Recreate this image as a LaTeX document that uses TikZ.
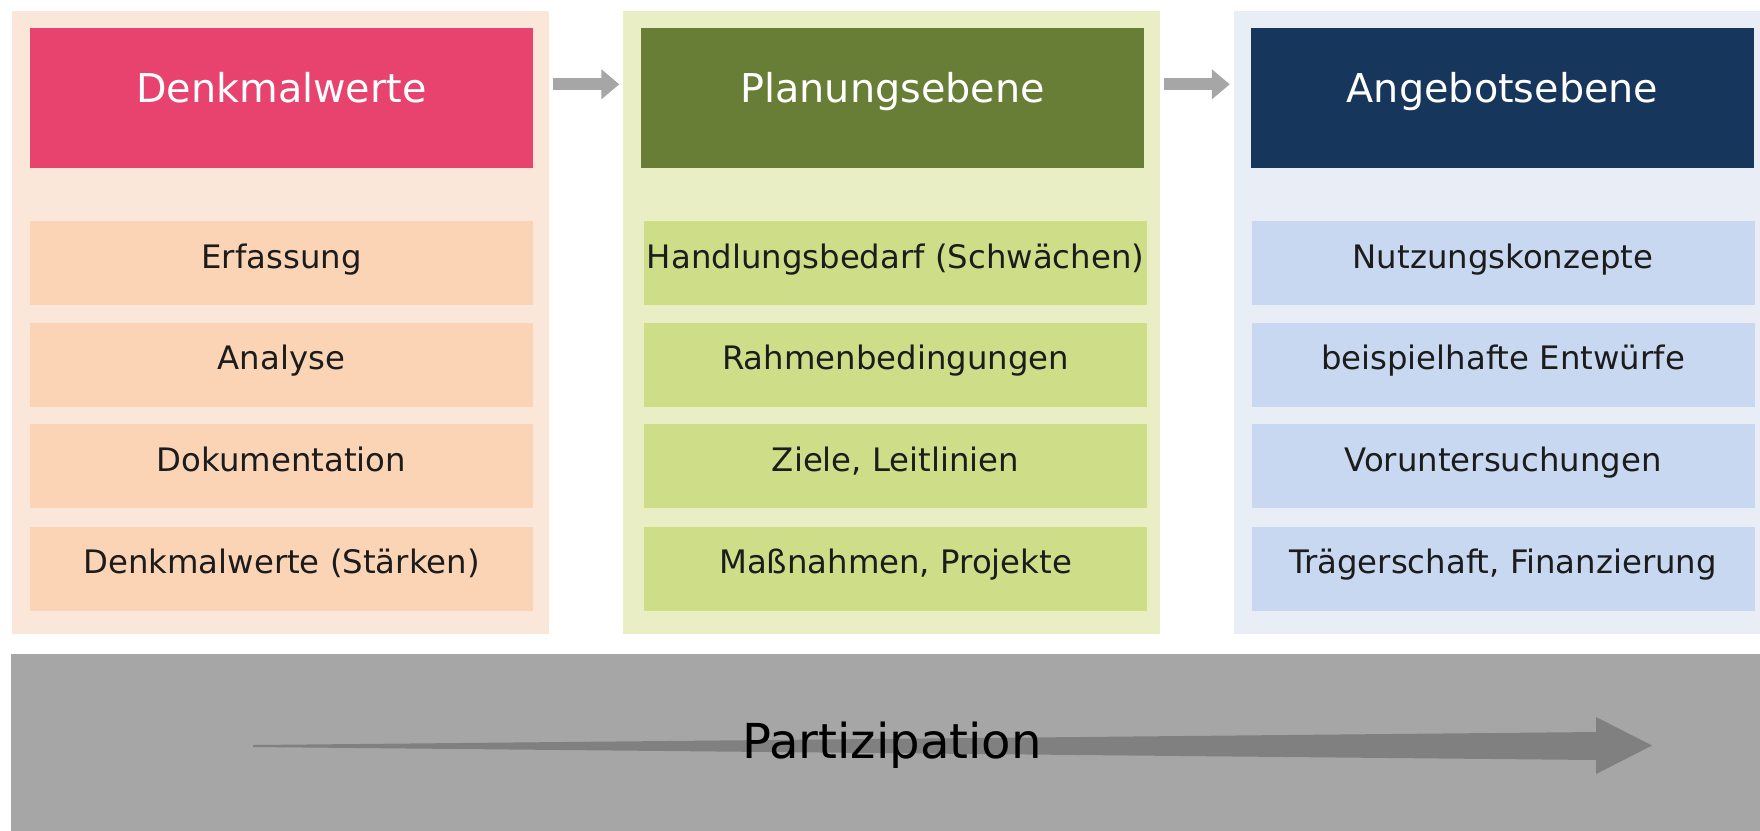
\documentclass[tikz,border=0pt]{standalone}
\usepackage{fontspec}
\setmainfont{DejaVu Sans}
\usetikzlibrary{arrows.meta}
\definecolor{denkbg}{RGB}{251,231,217}
\definecolor{denkitem}{RGB}{250,212,180}
\definecolor{denkhead}{RGB}{232,67,110}
\definecolor{planbg}{RGB}{234,238,196}
\definecolor{planitem}{RGB}{206,222,136}
\definecolor{planhead}{RGB}{104,125,53}
\definecolor{angbg}{RGB}{233,238,246}
\definecolor{angitem}{RGB}{199,216,240}
\definecolor{anghead}{RGB}{22,54,92}
\definecolor{bandgray}{RGB}{166,166,166}
\definecolor{bandarrow}{RGB}{128,128,128}
\definecolor{textdark}{RGB}{28,28,28}
\begin{document}
\begin{tikzpicture}[x=0.1mm,y=-0.1mm,
    panel/.style={rectangle,inner sep=0pt,minimum width=53.7mm,minimum height=62.3mm},
    head/.style={rectangle,inner sep=0pt,minimum width=50.3mm,minimum height=14mm,text=white,
      font=\fontsize{11.3}{13}\selectfont,text height=3.2mm,text depth=2.3mm},
    item/.style={rectangle,inner sep=0pt,minimum width=50.3mm,minimum height=8.4mm,text=textdark,
      font=\fontsize{9.2}{11}\selectfont,text height=2.5mm,text depth=1.5mm},
    steparrow/.style={draw=bandgray,line width=1.2mm,-{Triangle[length=1.8mm,width=2.9mm]},
      shorten <=0.3mm,shorten >=0.3mm}]
    \useasboundingbox (0,0) rectangle (1760,830);
    \clip (0,0) rectangle (1760,830);
    % three columns
    \node[panel,fill=denkbg] (bgDenk) at (280.5,322.5) {};
    \node[panel,fill=planbg] (bgPlan) at (891.5,322.5) {};
    \node[panel,fill=angbg] (bgAng) at (1502,322.5) {};
    \node[head,fill=denkhead] (hDenk) at (281.5,98) {Denkmalwerte};
    \node[head,fill=planhead] (hPlan) at (892.5,98) {Planungsebene};
    \node[head,fill=anghead] (hAng) at (1502.5,98) {Angebotsebene};
    \node[item,fill=denkitem] (denk1) at (281.5,263) {Erfassung};
    \node[item,fill=denkitem] (denk2) at (281.5,364.5) {Analyse};
    \node[item,fill=denkitem] (denk3) at (281.5,466) {Dokumentation};
    \node[item,fill=denkitem] (denk4) at (281.5,568.5) {Denkmalwerte (Stärken)};
    \node[item,fill=planitem] (plan1) at (895.5,263) {Handlungsbedarf (Schwächen)};
    \node[item,fill=planitem] (plan2) at (895.5,364.5) {Rahmenbedingungen};
    \node[item,fill=planitem] (plan3) at (895.5,466) {Ziele, Leitlinien};
    \node[item,fill=planitem] (plan4) at (895.5,568.5) {Maßnahmen, Projekte};
    \node[item,fill=angitem] (ang1) at (1503,263) {Nutzungskonzepte};
    \node[item,fill=angitem] (ang2) at (1503,364.5) {beispielhafte Entwürfe};
    \node[item,fill=angitem] (ang3) at (1503,466) {Voruntersuchungen};
    \node[item,fill=angitem] (ang4) at (1503,568.5) {Trägerschaft, Finanzierung};
    \draw[steparrow] ([yshift=-7.4mm]bgDenk.north east) -- ([yshift=-7.4mm]bgPlan.north west);
    \draw[steparrow] ([yshift=-7.4mm]bgPlan.north east) -- ([yshift=-7.4mm]bgAng.north west);
    % participation band
    \node[rectangle,inner sep=0pt,fill=bandgray,minimum width=176.5mm,minimum height=18.6mm] (band) at (893.5,747) {};
    \fill[bandarrow] (253,745) -- (1596,732) -- (1596,717) -- (1652,745.5) -- (1596,774) -- (1596,760) -- (253,747) -- cycle;
    \node[inner sep=0pt,text=black,font=\fontsize{13.7}{16}\selectfont,text height=3.5mm,text depth=0pt] (part) at (892,741) {Partizipation};
\end{tikzpicture}
\end{document}
